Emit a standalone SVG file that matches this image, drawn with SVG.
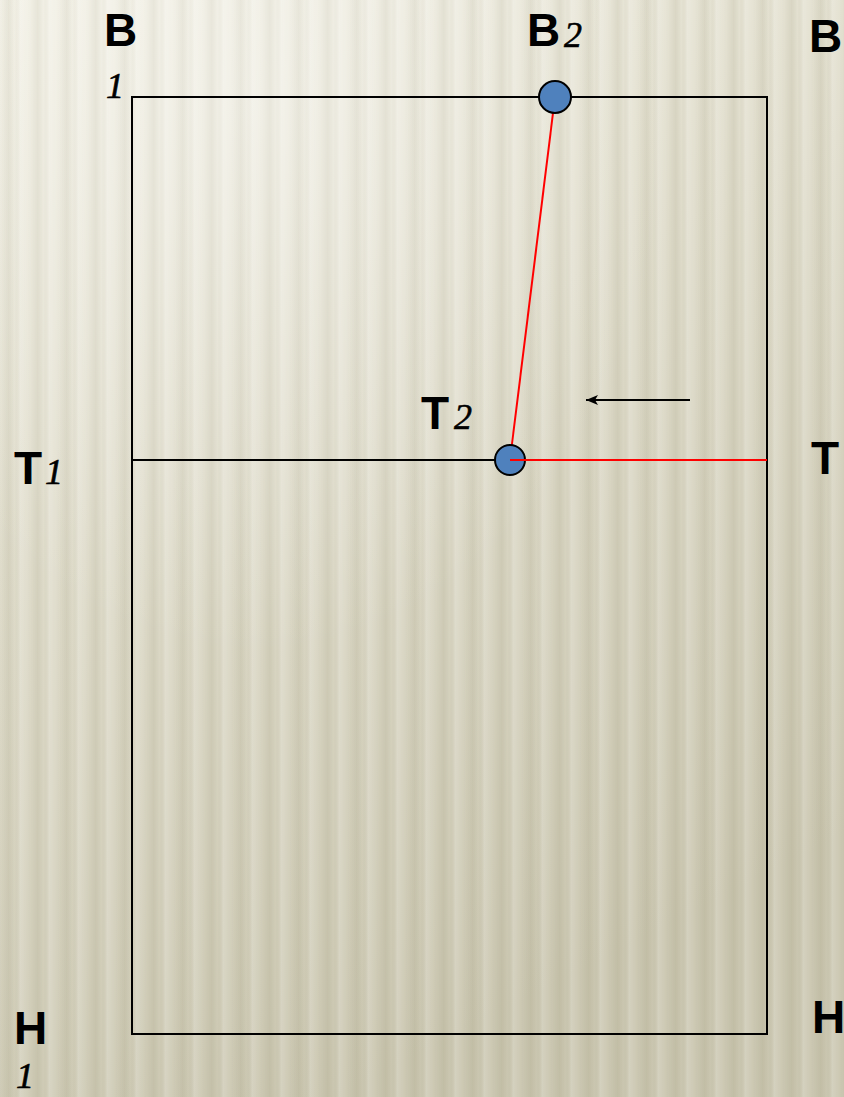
<svg xmlns="http://www.w3.org/2000/svg" width="844" height="1097" viewBox="0 0 844 1097">
<defs>
<linearGradient id="bg" x1="0" y1="0" x2="0.4" y2="1">
<stop offset="0" stop-color="#f1efe3"/>
<stop offset="0.45" stop-color="#e0ddcc"/>
<stop offset="1" stop-color="#cbc7b1"/>
</linearGradient>
<radialGradient id="glow" cx="0.3" cy="0.1" r="0.5">
<stop offset="0" stop-color="#ffffff" stop-opacity="0.35"/>
<stop offset="1" stop-color="#ffffff" stop-opacity="0"/>
</radialGradient>
<linearGradient id="band" x1="0" y1="0" x2="1" y2="0">
<stop offset="0" stop-color="#7d7753" stop-opacity="0"/>
<stop offset="0.3" stop-color="#7d7753" stop-opacity="0.12"/>
<stop offset="0.5" stop-color="#7d7753" stop-opacity="0.02"/>
<stop offset="0.7" stop-color="#ffffff" stop-opacity="0.18"/>
<stop offset="1" stop-color="#ffffff" stop-opacity="0"/>
</linearGradient>
<pattern id="stripes" width="29" height="1097" patternUnits="userSpaceOnUse">
<rect x="0" y="0" width="29" height="1097" fill="url(#band)"/>
</pattern>
<marker id="ah" markerWidth="13" markerHeight="10" refX="12" refY="5" orient="auto" markerUnits="userSpaceOnUse">
<path d="M0,0 L12,5 L0,10 L3,5 Z" fill="#000"/>
</marker>
<style>
.lbl{font-family:"Liberation Sans",Arial,sans-serif;font-weight:bold;font-size:46px;fill:#000}
.sub{font-family:"Liberation Serif","Times New Roman",serif;font-style:italic;font-size:36px;fill:#000;stroke:#000;stroke-width:0.6}
.frame{fill:none;stroke:#000;stroke-width:2}
.red{stroke:#ff0000;stroke-width:2;fill:none}
.dot{fill:#4f81bd;stroke:#000;stroke-width:2}
</style>
</defs>
<rect width="844" height="1097" fill="url(#bg)"/>
<rect width="844" height="1097" fill="url(#stripes)"/>
<rect width="844" height="1097" fill="url(#glow)"/>

<g id="frame">
<rect class="frame" x="132" y="97" width="635" height="937"/>
</g>
<g id="connectors">
<line x1="132" y1="460" x2="510" y2="460" stroke="#000" stroke-width="2"/>
<line class="red" x1="555" y1="97" x2="510" y2="460"/>
<line x1="690" y1="400" x2="586" y2="400" stroke="#000" stroke-width="2" marker-end="url(#ah)"/>
</g>
<g id="node-B2">
<circle class="dot" cx="555" cy="97" r="16"/>
</g>
<g id="node-T2">
<circle class="dot" cx="510" cy="460" r="15"/>
</g>
<g id="connector-red-h">
<line class="red" x1="510" y1="460" x2="767" y2="460"/>
</g>

<g id="labels">
<text class="lbl" x="104" y="46">B</text>
<text class="sub" x="106" y="98">1</text>
<text class="lbl" x="527" y="46">B</text>
<text class="sub" x="564" y="47">2</text>
<text class="lbl" x="809" y="52">B</text>
<text class="lbl" x="14" y="484">T</text>
<text class="sub" x="45" y="484">1</text>
<text class="lbl" x="421" y="429">T</text>
<text class="sub" x="454" y="429">2</text>
<text class="lbl" x="811" y="474">T</text>
<text class="lbl" x="14" y="1044">H</text>
<text class="sub" x="16" y="1088">1</text>
<text class="lbl" x="812" y="1033">H</text>
</g>
</svg>
